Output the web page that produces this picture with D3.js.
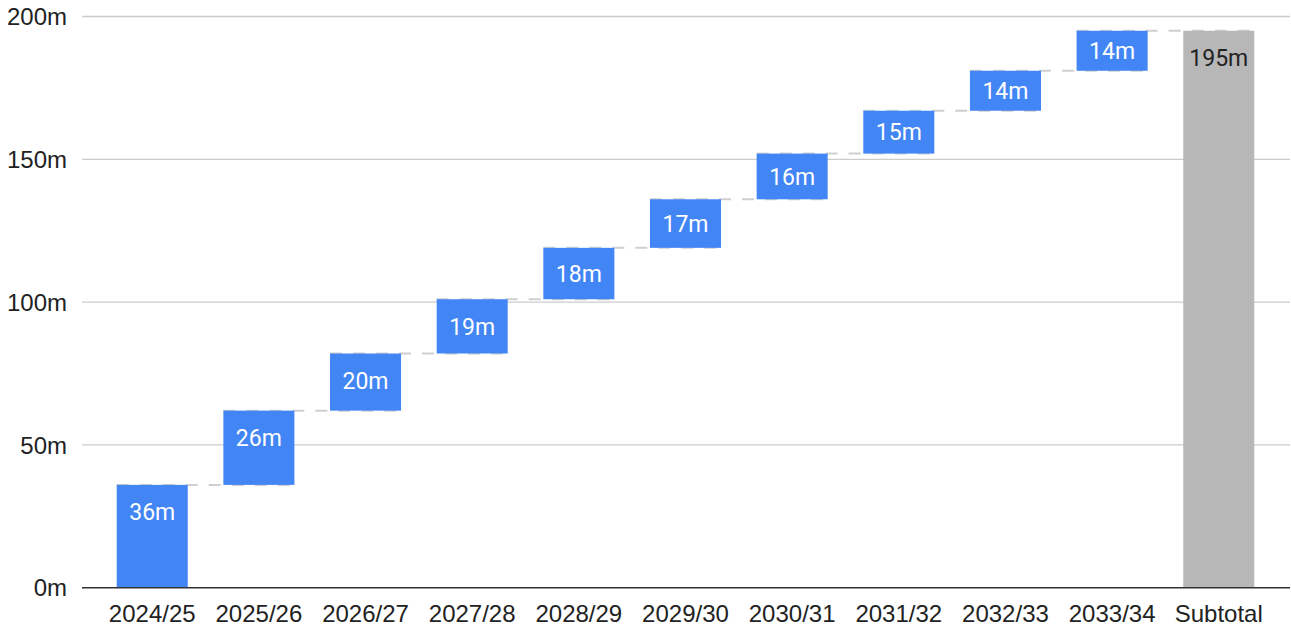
<!DOCTYPE html>
<html>
<head>
<meta charset="utf-8">
<script src="https://cdn.jsdelivr.net/npm/d3@7"></script>
<style>
  body { margin: 0; background: #fff; }
  .axis-label { font-family: "Liberation Sans", Arial, sans-serif; }
  .bar-label { font-family: Roboto, "Noto Sans", sans-serif; }
</style>
</head>
<body>
<script>
// data
var categories = ['2024/25', '2025/26', '2026/27', '2027/28', '2028/29', '2029/30', '2030/31', '2031/32', '2032/33', '2033/34']
var values = [36, 26, 20, 19, 18, 17, 16, 15, 14, 14]
var totalLabel = 'Subtotal'
var yTicks = [0, 50, 100, 150, 200]

var W = 1291, H = 630

// build waterfall steps
var steps = []
var run = 0
for (let i = 0; i < values.length; i++) {
    steps.push({name: categories[i], start: run, end: run + values[i], value: values[i], total: false})
    run += values[i]
}
steps.push({name: totalLabel, start: 0, end: run, value: run, total: true})

var svg = d3.select('body').append('svg')
    .attr('width', W)
    .attr('height', H)

var xScale = d3.scaleBand()
    .domain(steps.map(d => d.name))
    .range([98.9, 1272.1])
    .paddingInner(0.334)
    .paddingOuter(0.167)

var yScale = d3.scaleLinear()
    .domain([0, 200])
    .range([587.7, 16.5])

// gridlines
svg.append('g').selectAll('line')
    .data(yTicks.filter(d => d > 0))
    .enter().append('line')
    .attr('x1', 82).attr('x2', 1290)
    .attr('y1', d => yScale(d)).attr('y2', d => yScale(d))
    .attr('stroke', '#cccccc')
    .attr('stroke-width', 1.3)

// y labels
svg.append('g').selectAll('text')
    .data(yTicks)
    .enter().append('text')
    .attr('class', 'axis-label')
    .attr('x', 67)
    .attr('y', d => yScale(d))
    .attr('dy', '0.36em')
    .attr('text-anchor', 'end')
    .attr('font-size', '24px')
    .attr('fill', '#222')
    .text(d => d + 'm')

// dashed connectors (behind bars)
var conn = svg.append('g')
for (let i = 0; i < steps.length - 1; i++) {
    conn.append('line')
        .attr('x1', xScale(steps[i].name))
        .attr('x2', xScale(steps[i + 1].name) + xScale.bandwidth())
        .attr('y1', yScale(steps[i].end))
        .attr('y2', yScale(steps[i].end))
        .attr('stroke', '#cfcfcf')
        .attr('stroke-width', 2)
        .attr('stroke-dasharray', '12,11')
}

// bars
svg.append('g').selectAll('rect')
    .data(steps)
    .enter().append('rect')
    .attr('x', d => xScale(d.name))
    .attr('width', xScale.bandwidth())
    .attr('y', d => yScale(d.end))
    .attr('height', d => yScale(d.start) - yScale(d.end))
    .attr('fill', d => d.total ? '#b7b7b7' : '#4285f4')

// bar labels
svg.append('g').selectAll('text')
    .data(steps)
    .enter().append('text')
    .attr('class', 'bar-label')
    .attr('x', d => xScale(d.name) + xScale.bandwidth() / 2)
    .attr('y', function(d) {
        var top = yScale(d.end), mid = (yScale(d.start) + yScale(d.end)) / 2
        return Math.min(top + 27, mid)
    })
    .attr('dy', '0.36em')
    .attr('text-anchor', 'middle')
    .attr('font-size', '23px')
    .attr('fill', d => d.total ? '#222' : '#fff')
    .text(d => d.value + 'm')

// baseline
svg.append('line')
    .attr('x1', 82).attr('x2', 1290)
    .attr('y1', yScale(0)).attr('y2', yScale(0))
    .attr('stroke', '#333')
    .attr('stroke-width', 1.5)

// x labels
svg.append('g').selectAll('text')
    .data(steps)
    .enter().append('text')
    .attr('class', 'axis-label')
    .attr('x', d => xScale(d.name) + xScale.bandwidth() / 2)
    .attr('y', 622)
    .attr('text-anchor', 'middle')
    .attr('font-size', '24px')
    .attr('fill', '#222')
    .text(d => d.name)
</script>
</body>
</html>
